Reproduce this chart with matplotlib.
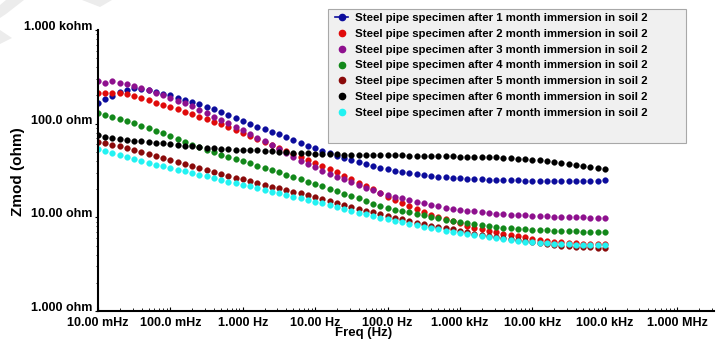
import matplotlib
matplotlib.use("Agg")
import matplotlib.pyplot as plt
from matplotlib.lines import Line2D
from matplotlib.patches import Rectangle, Polygon
from matplotlib.ticker import FixedLocator, LogLocator, NullFormatter

plt.rcParams['font.family'] = ['Liberation Sans', 'DejaVu Sans']
plt.rcParams['font.weight'] = 'bold'

# ---------------- data ----------------
freq_hz = [0.01, 0.0126, 0.0158, 0.02, 0.0251, 0.0316, 0.0398, 0.0501, 0.0631, 0.0794,
           0.1, 0.126, 0.158, 0.2, 0.251, 0.316, 0.398, 0.501, 0.631, 0.794,
           1, 1.26, 1.58, 2, 2.51, 3.16, 3.98, 5.01, 6.31, 7.94,
           10, 12.6, 15.8, 20, 25.1, 31.6, 39.8, 50.1, 63.1, 79.4,
           100, 126, 158, 200, 251, 316, 398, 501, 631, 794,
           1000, 1260, 1580, 2000, 2510, 3160, 3980, 5010, 6310, 7940,
           10000, 12600, 15800, 20000, 25100, 31600, 39800, 50100, 63100, 79400,
           100000]

zmod_1 = [166, 183, 197, 217, 228, 240, 234, 228, 217, 207,
          202, 188, 179, 170, 162, 150, 143, 133, 124, 115,
          107, 99.0, 92.0, 87.5, 81.3, 77.5, 72.0, 66.8, 62.1, 57.7,
          54.9, 51.0, 48.6, 45.1, 42.9, 40.9, 38.9, 37.1, 35.3, 33.6,
          32.8, 31.2, 30.5, 29.7, 29.0, 28.3, 27.6, 26.9, 26.9, 26.3,
          26.3, 25.6, 25.6, 25.6, 25.0, 25.0, 25.0, 25.0, 25.0, 24.4,
          24.4, 24.4, 24.4, 24.4, 24.4, 24.4, 24.4, 24.4, 24.4, 24.4,
          25.0]

zmod_2 = [212, 212, 212, 212, 207, 197, 188, 179, 166, 158,
          150, 143, 133, 127, 118, 112, 104, 99.0, 92.0, 85.4,
          79.3, 73.8, 68.5, 63.6, 59.1, 54.9, 51.0, 47.4, 44.0, 40.9,
          38.0, 35.3, 32.8, 30.5, 27.6, 25.6, 23.2, 21.6, 20.1, 18.2,
          16.5, 15.3, 14.2, 13.2, 12.3, 11.4, 10.6, 10.1, 9.59, 9.13,
          8.70, 8.08, 7.69, 7.50, 7.14, 6.97, 6.63, 6.47, 6.31, 6.16,
          5.86, 5.72, 5.58, 5.45, 5.45, 5.31, 5.31, 5.18, 5.18, 5.18,
          5.18]

zmod_3 = [285, 271, 285, 271, 265, 252, 240, 228, 212, 202,
          188, 174, 166, 154, 140, 130, 118, 109, 101, 92.0,
          85.4, 77.5, 70.2, 65.2, 59.1, 53.6, 48.6, 44.0, 39.9, 37.1,
          34.5, 31.2, 29.0, 26.9, 25.6, 23.8, 22.1, 20.5, 19.6, 18.2,
          17.3, 16.5, 16.1, 15.3, 14.6, 14.2, 13.5, 13.2, 12.5, 12.3,
          12.0, 11.7, 11.7, 11.4, 11.1, 10.8, 10.8, 10.6, 10.6, 10.6,
          10.3, 10.3, 10.3, 10.1, 10.1, 10.1, 10.1, 10.1, 9.83, 9.83,
          9.83]

zmod_4 = [130, 124, 118, 112, 107, 101, 94.3, 89.8, 83.3, 79.3,
          73.8, 68.5, 63.6, 59.1, 56.3, 52.3, 49.8, 46.2, 44.0, 41.9,
          39.9, 38.0, 35.3, 33.6, 32.0, 30.5, 28.3, 26.9, 25.6, 23.8,
          22.7, 21.6, 20.1, 19.1, 17.7, 16.9, 16.1, 14.9, 13.9, 13.2,
          12.5, 12.0, 11.7, 11.4, 10.8, 10.6, 10.1, 9.83, 9.36, 9.13,
          8.91, 8.70, 8.49, 8.28, 8.08, 7.88, 7.69, 7.69, 7.50, 7.50,
          7.32, 7.32, 7.32, 7.14, 7.14, 7.14, 7.14, 6.97, 6.97, 6.97,
          6.97]

zmod_5 = [63.6, 62.1, 59.1, 57.7, 54.9, 52.3, 49.8, 47.4, 45.1, 42.9,
          40.9, 38.9, 37.1, 35.3, 33.6, 32.0, 30.5, 29.0, 27.6, 26.3,
          25.6, 24.4, 23.2, 22.1, 21.0, 20.5, 19.6, 18.6, 18.2, 17.3,
          16.5, 15.7, 14.9, 14.2, 13.5, 12.9, 12.3, 11.7, 11.4, 10.8,
          10.3, 9.83, 9.59, 9.13, 8.70, 8.49, 8.08, 7.88, 7.69, 7.50,
          7.14, 6.97, 6.63, 6.47, 6.31, 6.16, 6.01, 5.86, 5.72, 5.58,
          5.45, 5.31, 5.18, 5.06, 4.94, 4.94, 4.82, 4.82, 4.82, 4.70,
          4.70]

zmod_6 = [75.6, 72.0, 70.2, 68.5, 66.8, 65.2, 65.2, 63.6, 62.1, 62.1,
          60.6, 59.1, 57.7, 57.7, 56.3, 54.9, 54.9, 53.6, 53.6, 52.3,
          52.3, 52.3, 52.3, 51.0, 51.0, 49.8, 49.8, 48.6, 48.6, 48.6,
          47.4, 47.4, 47.4, 47.4, 46.2, 46.2, 46.2, 46.2, 46.2, 46.2,
          46.2, 46.2, 46.2, 45.1, 45.1, 45.1, 45.1, 45.1, 45.1, 45.1,
          44.0, 44.0, 44.0, 44.0, 44.0, 44.0, 42.9, 42.9, 41.9, 41.9,
          40.9, 40.9, 39.9, 38.9, 38.0, 37.1, 36.2, 35.3, 34.5, 33.6,
          32.8]

zmod_7 = [53.6, 51.0, 48.6, 46.2, 44.0, 41.9, 39.9, 38.0, 36.2, 35.3,
          33.6, 32.0, 31.2, 29.7, 28.3, 27.6, 26.3, 25.0, 23.8, 23.2,
          22.1, 21.6, 20.5, 19.6, 18.6, 18.2, 17.3, 16.5, 16.1, 15.3,
          14.6, 14.2, 13.5, 12.9, 12.3, 11.7, 11.1, 10.8, 10.3, 9.83,
          9.59, 9.13, 8.91, 8.49, 8.28, 7.88, 7.69, 7.50, 7.14, 6.97,
          6.80, 6.63, 6.47, 6.31, 6.16, 6.01, 5.86, 5.72, 5.58, 5.45,
          5.45, 5.31, 5.31, 5.18, 5.18, 5.18, 5.06, 5.06, 5.06, 5.06,
          5.06]

series_values = [zmod_1, zmod_2, zmod_3, zmod_4, zmod_5, zmod_6, zmod_7]
series_labels = ["Steel pipe specimen after %d month immersion in soil 2" % m
                 for m in [1, 2, 3, 4, 5, 6, 7]]
series_colors = ["#0c0c9c", "#e00a0a", "#8e108e", "#12881a", "#8a0a0a", "#000000", "#22f2f2"]

x_tick_values = [1e-2, 1e-1, 1e0, 1e1, 1e2, 1e3, 1e4, 1e5, 1e6]
x_tick_labels = ["10.00 mHz", "100.0 mHz", "1.000 Hz", "10.00 Hz", "100.0 Hz",
                 "1.000 kHz", "10.00 kHz", "100.0 kHz", "1.000 MHz"]
y_tick_values = [1, 10, 100, 1000]
y_tick_labels = ["1.000 ohm", "10.00 ohm", "100.0 ohm", "1.000 kohm"]

# ---------------- figure ----------------
W, H = 716, 340
fig = plt.figure(figsize=(W / 100, H / 100), dpi=100)
fig.patch.set_facecolor("white")

# faint watermark shapes at the top-left corner
def fpoly(pts, **kw):
    return Polygon([(x / W, 1 - y / H) for x, y in pts], closed=True,
                   transform=fig.transFigure, **kw)

for pts in ([(6, 0), (24, 0), (6, 14), (0, 18), (0, 5)],
            [(0, 30), (12, 38), (0, 44)],
            [(82, 0), (112, 0), (100, 7)]):
    fig.patches.append(fpoly(pts, facecolor="#ececec", edgecolor="none", zorder=0))

ax = fig.add_axes([98 / W, 29 / H, 616 / W, 281 / H])
ax.set_facecolor("none")

for vals, col in zip(series_values, series_colors):
    ax.plot(freq_hz, vals, linestyle="none", marker="o", ms=4.1,
            color=col, mec=col, mew=0.3)

ax.set_xscale("log")
ax.set_yscale("log")
ax.set_xlim(1e-2, 10 ** 6.508)
ax.set_ylim(1, 1000)

for s in ["top", "right"]:
    ax.spines[s].set_visible(False)
for s in ["left", "bottom"]:
    ax.spines[s].set_color("black")
    ax.spines[s].set_linewidth(1.5)

ax.xaxis.set_major_locator(FixedLocator(x_tick_values))
ax.set_xticklabels(x_tick_labels, fontsize=9, fontweight="bold")
ax.yaxis.set_major_locator(FixedLocator(y_tick_values))
ax.set_yticklabels(y_tick_labels, fontsize=9, fontweight="bold")
ax.xaxis.set_minor_locator(LogLocator(base=10, subs=[2, 3, 4, 5, 6, 7, 8, 9], numticks=20))
ax.yaxis.set_minor_locator(LogLocator(base=10, subs=[2, 3, 4, 5, 6, 7, 8, 9], numticks=20))
ax.xaxis.set_minor_formatter(NullFormatter())
ax.yaxis.set_minor_formatter(NullFormatter())
ax.tick_params(axis="x", which="major", direction="in", length=3, width=0.8, pad=4)
ax.tick_params(axis="x", which="minor", direction="in", length=2, width=0.6)
ax.tick_params(axis="y", which="major", direction="out", length=2, width=0.8, pad=2)
ax.tick_params(axis="y", which="minor", direction="out", length=1.5, width=0.6)
for lbl in ax.get_yticklabels():
    lbl.set_verticalalignment("baseline")

fig.text(18 / W, 1 - 172 / H, "Zmod (ohm)", rotation=90, fontsize=11,
         fontweight="bold", ha="center", va="center")
fig.text(364 / W, 1 - 333 / H, "Freq (Hz)", fontsize=9.5,
         fontweight="bold", ha="center", va="center")

# legend box
box = Rectangle((328 / W, 1 - 143 / H), 358 / W, 134 / H, transform=fig.transFigure,
                facecolor="#f0f0f0", edgecolor="#a8a8a8", lw=0.8, zorder=5, clip_on=False)
ax.add_patch(box)

handles = []
for i, col in enumerate(series_colors):
    handles.append(Line2D([], [], color=col, marker="o", ms=4.5, mec=col,
                          linestyle="-" if i == 0 else "none", lw=1.2))
leg = ax.legend(handles, series_labels, loc="upper left",
                bbox_to_anchor=(332 / W, 1 - 10 / H), bbox_transform=fig.transFigure,
                frameon=False, prop={"size": 8.2, "weight": "bold"},
                labelspacing=0.5, handlelength=1.1, handletextpad=0.6,
                borderpad=0.3, borderaxespad=0)
leg.set_zorder(6)

fig.savefig("out.png", dpi=100)
